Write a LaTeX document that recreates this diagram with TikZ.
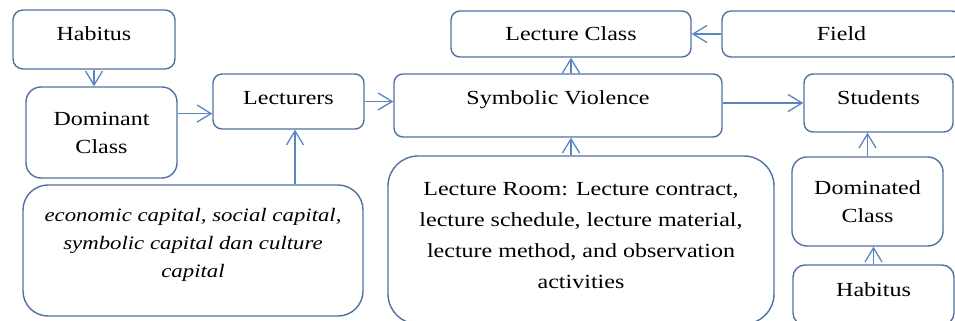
\documentclass[tikz,border=0pt]{standalone}
\usepackage{fontspec}
\setmainfont{Liberation Serif}[FakeStretch=1.2]
\usetikzlibrary{arrows.meta}
\definecolor{boxline}{RGB}{80,114,160}
\definecolor{arrline}{RGB}{88,134,194}

\begin{document}
\begin{tikzpicture}[x=1pt,y=-1pt,
		box/.style={draw=boxline,line width=1.4pt,rounded corners=#1,align=center,
			inner sep=0pt,font=\fontsize{20}{28}\selectfont},
		box/.default=9pt,
		lift/.style={text depth=#1},
		arr/.style={draw=arrline,line width=1.3pt,-{Straight Barb[length=14pt,width=17pt]}}]
		\useasboundingbox (0,0) rectangle (955,321);
		% left column
		\node[box=10pt,minimum width=162pt,minimum height=59pt,lift=11pt] (habA) at (94,39.5) {Habitus};
		\node[box=15pt,minimum width=151pt,minimum height=91pt] (domC) at (101.5,132.5) {Dominant\\Class};
		\node[box,minimum width=151pt,minimum height=55pt,lift=7pt] (lect) at (288.5,101.5) {Lecturers};
		\node[box=25pt,minimum width=340pt,minimum height=131pt,lift=15pt,
			font=\fontsize{19}{28}\selectfont\itshape] (capB) at (193,250.5)
			{economic capital, social capital,\\symbolic capital dan culture\\capital};
		% middle column
		\node[box,minimum width=240pt,minimum height=46pt] (lc) at (571,34) {Lecture Class};
		\node[box,minimum width=239pt,minimum height=46pt] (field) at (841.5,34) {Field};
		\node[box,minimum width=328pt,minimum height=63pt,lift=15pt] (sv) at (558,105.5) {Symbolic Violence};
		\node[box=30pt,minimum width=386pt,minimum height=168pt,lift=10pt,
			font=\fontsize{20}{31}\selectfont] (lr) at (581,240)
			{Lecture Room: Lecture contract,\\lecture schedule, lecture material,\\lecture method, and observation\\activities};
		% right column
		\node[box,minimum width=149pt,minimum height=58pt,lift=10pt] (stu) at (878.5,103) {Students};
		\node[box=15pt,minimum width=151pt,minimum height=89pt] (domd) at (867.5,201.5) {Dominated\\Class};
		\node[box=12pt,minimum width=161pt,minimum height=60pt,lift=10pt] (habB) at (873.5,295) {Habitus};
		% arrows
		\draw[arr] (habA.south) -- (habA.south |- domC.north);
		\draw[arr] (domC.east |- lect.189) -- (lect.189);
		\draw[arr] (capB.north -| lect.-77) -- (lect.-77);
		\draw[arr] (lect.east) -- (lect.east -| sv.west);
		\draw[arr] (sv.north -| lc.south) -- (lc.south);
		\draw[arr] (field.west) -- (field.west -| lc.east);
		\draw[arr] (sv.east |- stu.west) -- (stu.west);
		\draw[arr] (lr.north -| lc.south) -- (sv.south -| lc.south);
		\draw[arr] (domd.north) -- (domd.north |- stu.south);
		\draw[arr] (habB.north) -- (habB.north |- domd.south);
\end{tikzpicture}
\end{document}
